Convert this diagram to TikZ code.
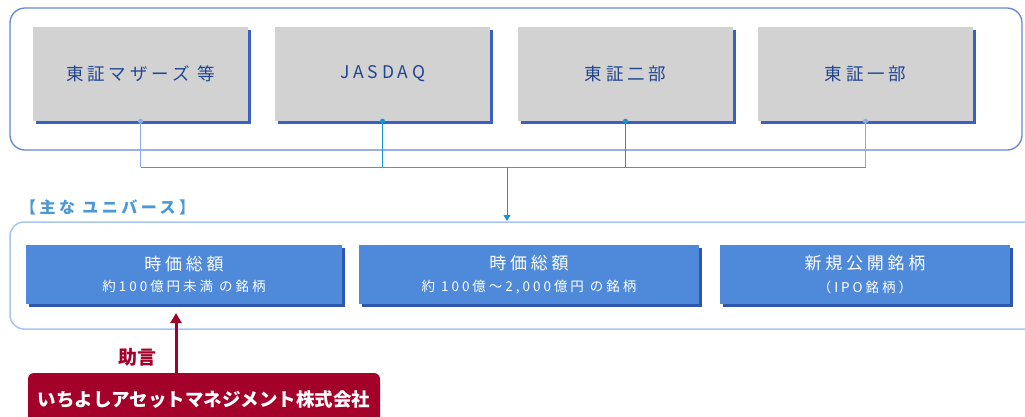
\documentclass[tikz,border=0pt]{standalone}
\usepackage{fontspec}
\setmainfont{Noto Sans CJK JP}
\newfontfamily\jpwide[LetterSpace=22]{Noto Sans CJK JP}
\usetikzlibrary{arrows.meta,shadows}
\definecolor{frameblue}{HTML}{6585D6}
\definecolor{grayfill}{HTML}{D2D2D2}
\definecolor{shadowblue}{HTML}{3A60C2}
\definecolor{darktext}{HTML}{1F4590}
\definecolor{boxblue}{HTML}{4F8ADA}
\definecolor{boxshadow}{HTML}{2D56AE}
\definecolor{tealc}{HTML}{1A94CC}
\definecolor{lightconn}{HTML}{8AAEE4}
\definecolor{hlinec}{HTML}{5C8ADA}
\definecolor{labelblue}{HTML}{4A98D6}
\definecolor{dotframe}{HTML}{A6C6EE}
\definecolor{redbox}{HTML}{A3002A}
\tikzset{
  gbox/.style={fill=grayfill, minimum width=215pt, minimum height=94pt, inner sep=0pt,
    text=darktext, font=\jpwide\fontsize{17.5}{19}\selectfont,
    general shadow={fill=shadowblue, shadow xshift=3pt, shadow yshift=-3pt}},
  bbox/.style={fill=boxblue, minimum height=59pt, inner sep=0pt, text=white, align=center,
    general shadow={fill=boxshadow, shadow xshift=3pt, shadow yshift=-3pt}},
  conn/.style={line width=1pt},
  dotc/.style={radius=2.5pt},
}
\newcommand{\lA}{\jpwide\fontsize{17}{19}\selectfont}
\newcommand{\lB}{\jpwide\fontsize{13.5}{15}\selectfont}
\begin{document}
\begin{tikzpicture}[x=1pt,y=-1pt]
\useasboundingbox (0,0) rectangle (1025,416);
% frames
\node[draw=frameblue, line width=1.3pt, rounded corners=15pt, minimum width=1012pt, minimum height=142pt, inner sep=0pt] (topframe) at (516,79) {};
\draw[dotframe, line width=1.5pt, rounded corners=14pt] (1035,222) -- (10,222) -- (10,329) -- (1035,329);
% gray boxes
\node[gbox] (b1) at (140.5,74) {東証マザーズ\ 等};
\node[gbox] (b2) at (382.5,74) {JASDAQ};
\node[gbox] (b3) at (625.5,74) {東証二部};
\node[gbox] (b4) at (865.5,74) {東証一部};
% connectors
\coordinate (hub) at (507,167);
\coordinate (utop) at (507,221);
\draw[conn, lightconn] (b1.south) -- (b1.south |- hub);
\draw[conn, lightconn] (b4.south) -- (b4.south |- hub);
\draw[conn, tealc] (b2.south) -- (b2.south |- hub);
\draw[conn, tealc] (b3.south) -- (b3.south |- hub);
\draw[conn, hlinec] (b1.south |- hub) -- (b4.south |- hub);
\fill[lightconn] (b1.south) circle[dotc];
\fill[lightconn] (b4.south) circle[dotc];
\fill[tealc] (b2.south) circle[dotc];
\fill[tealc] (b3.south) circle[dotc];
\draw[conn, tealc, -{Triangle[width=7pt,length=6pt]}] (hub) -- (utop);
% label
\node[anchor=west, text=labelblue, font=\jpwide\bfseries\fontsize{16}{18}\selectfont, inner sep=0pt] (ulabel) at (20,207) {【主な ユニバース】};
% blue boxes
\node[bbox, minimum width=316pt] (u1) at (184,274.5) {{\lA 時価総額}\\[8pt]{\lB 約100億円未満 の銘柄}};
\node[bbox, minimum width=340pt] (u2) at (529,274.5) {{\lA 時価総額}\\[8pt]{\lB 約 100億～2,000億円 の銘柄}};
\node[bbox, minimum width=290pt] (u3) at (865,274.5) {{\lA 新規公開銘柄}\\[8pt]{\lB （IPO銘柄）}};
% advisor
\node[fill=redbox, rounded corners=6pt, minimum width=352pt, minimum height=54pt, inner sep=0pt, text=white, font=\bfseries\fontsize{18.5}{20}\selectfont] (adv) at (204,400) {いちよしアセットマネジメント株式会社};
\coordinate (advtip) at (176,313);
\draw[redbox, line width=3pt, -{Triangle[width=11pt,length=10pt]}] (adv.north -| advtip) -- (advtip);
\node[text=redbox, font=\bfseries\fontsize{19}{21}\selectfont] (jogen) at (137,357) {助言};
\end{tikzpicture}
\end{document}
